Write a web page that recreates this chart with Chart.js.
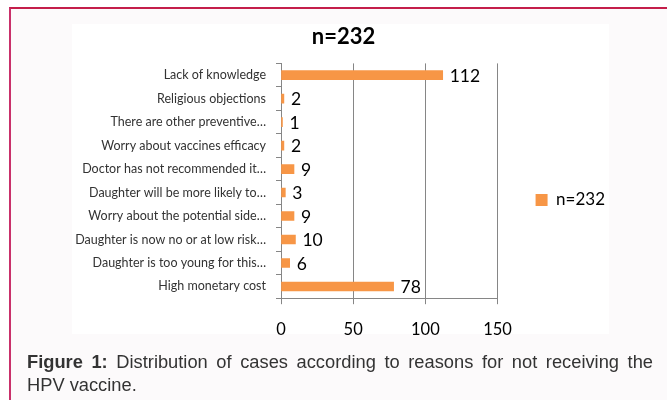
<!DOCTYPE html>
<html>
<head>
<meta charset="utf-8">
<script src="https://cdn.jsdelivr.net/npm/chart.js@4.4.1/dist/chart.umd.min.js"></script>
<style>
  body { margin: 0; background: #ffffff; width: 667px; height: 400px; overflow: hidden; position: relative; font-family: "Liberation Sans", Arial, sans-serif; }
  #frame { position: absolute; left: 9px; top: 7px; right: 0; bottom: 0; background: #fcfafb; border-top: 2px solid #c41e4a; border-left: 2px solid #c9306a; }
  #whitebox { position: absolute; left: 72px; top: 24px; width: 537px; height: 310px; background: #ffffff; }
  #chartDIV { position: absolute; left: 72px; top: 24px; }
  .cap { position: absolute; left: 27px; width: 626px; font-family: "Liberation Sans Narrow", "Liberation Sans", sans-serif; font-size: 18.3px; color: #333333; }
  #cap1 { top: 351px; text-align: justify; text-align-last: justify; }
  #cap2 { top: 374px; }
</style>
</head>
<body>
<div id="frame"></div>
<div id="whitebox"></div>
<div id="chartDIV"><canvas id="resultsChart" width="543" height="332"></canvas></div>
<div class="cap" id="cap1"><b>Figure 1:</b> Distribution of cases according to reasons for not receiving the</div>
<div class="cap" id="cap2">HPV vaccine.</div>
<script>
const reasons = [
  "Lack of knowledge",
  "Religious objections",
  "There are other preventive…",
  "Worry about vaccines efficacy",
  "Doctor has not recommended it…",
  "Daughter will be more likely to…",
  "Worry about the potential side…",
  "Daughter is now no or at low risk…",
  "Daughter is too young for this…",
  "High monetary cost"
];
const counts = [112, 2, 1, 2, 9, 3, 9, 10, 6, 78];
const seriesName = "n=232";
const xTicks = [0, 50, 100, 150];

const barColor = "#f79646";
const gridColor = "#868686";

// numbers at the end of each bar
const barLabels = {
  id: "barLabels",
  afterDatasetsDraw(chart) {
    const ctx = chart.ctx;
    const meta = chart.getDatasetMeta(0);
    ctx.save();
    ctx.font = "17.5px Lato";
    ctx.fillStyle = "#000000";
    ctx.textAlign = "left";
    ctx.textBaseline = "middle";
    meta.data.forEach((bar, i) => {
      ctx.fillText(String(counts[i]), bar.x + 7, bar.y + 1);
    });
    ctx.restore();
  }
};

const resultsChart = document.getElementById("resultsChart");
const resultsGraph = new Chart(resultsChart, {
  type: "bar",
  data: {
    labels: reasons,
    datasets: [
      {
        label: seriesName,
        data: counts,
        backgroundColor: barColor,
        borderWidth: 0,
        barThickness: 9
      }
    ]
  },
  options: {
    indexAxis: "y",
    responsive: false,
    animation: false,
    devicePixelRatio: 1,
    layout: { padding: 0 },
    plugins: {
      title: {
        display: true,
        text: seriesName,
        color: "#000000",
        font: { family: "Lato", size: 22, weight: "bold" },
        padding: { top: 0, bottom: 13 }
      },
      legend: {
        position: "right",
        title: { display: true, text: " ", font: { size: 10 }, padding: 4 },
        labels: {
          boxWidth: 12,
          boxHeight: 12,
          padding: 38,
          color: "#000000",
          font: { family: "Lato", size: 17 }
        }
      },
      tooltip: { enabled: false }
    },
    scales: {
      x: {
        min: 0,
        max: 150,
        afterBuildTicks(scale) {
          scale.ticks = xTicks.map(v => ({ value: v }));
        },
        grid: { color: gridColor, tickLength: 6, drawTicks: true },
        border: { color: gridColor },
        ticks: { color: "#000000", padding: 16, font: { family: "Lato", size: 16.5 } }
      },
      y: {
        afterFit(scale) { scale.width = 209; },
        grid: { drawOnChartArea: false, color: gridColor, tickLength: 5 },
        border: { color: gridColor },
        ticks: { color: "#333333", padding: 10, autoSkip: false, font: { family: "Lato", size: 12.5 } }
      }
    }
  },
  plugins: [barLabels]
});
</script>
</body>
</html>
